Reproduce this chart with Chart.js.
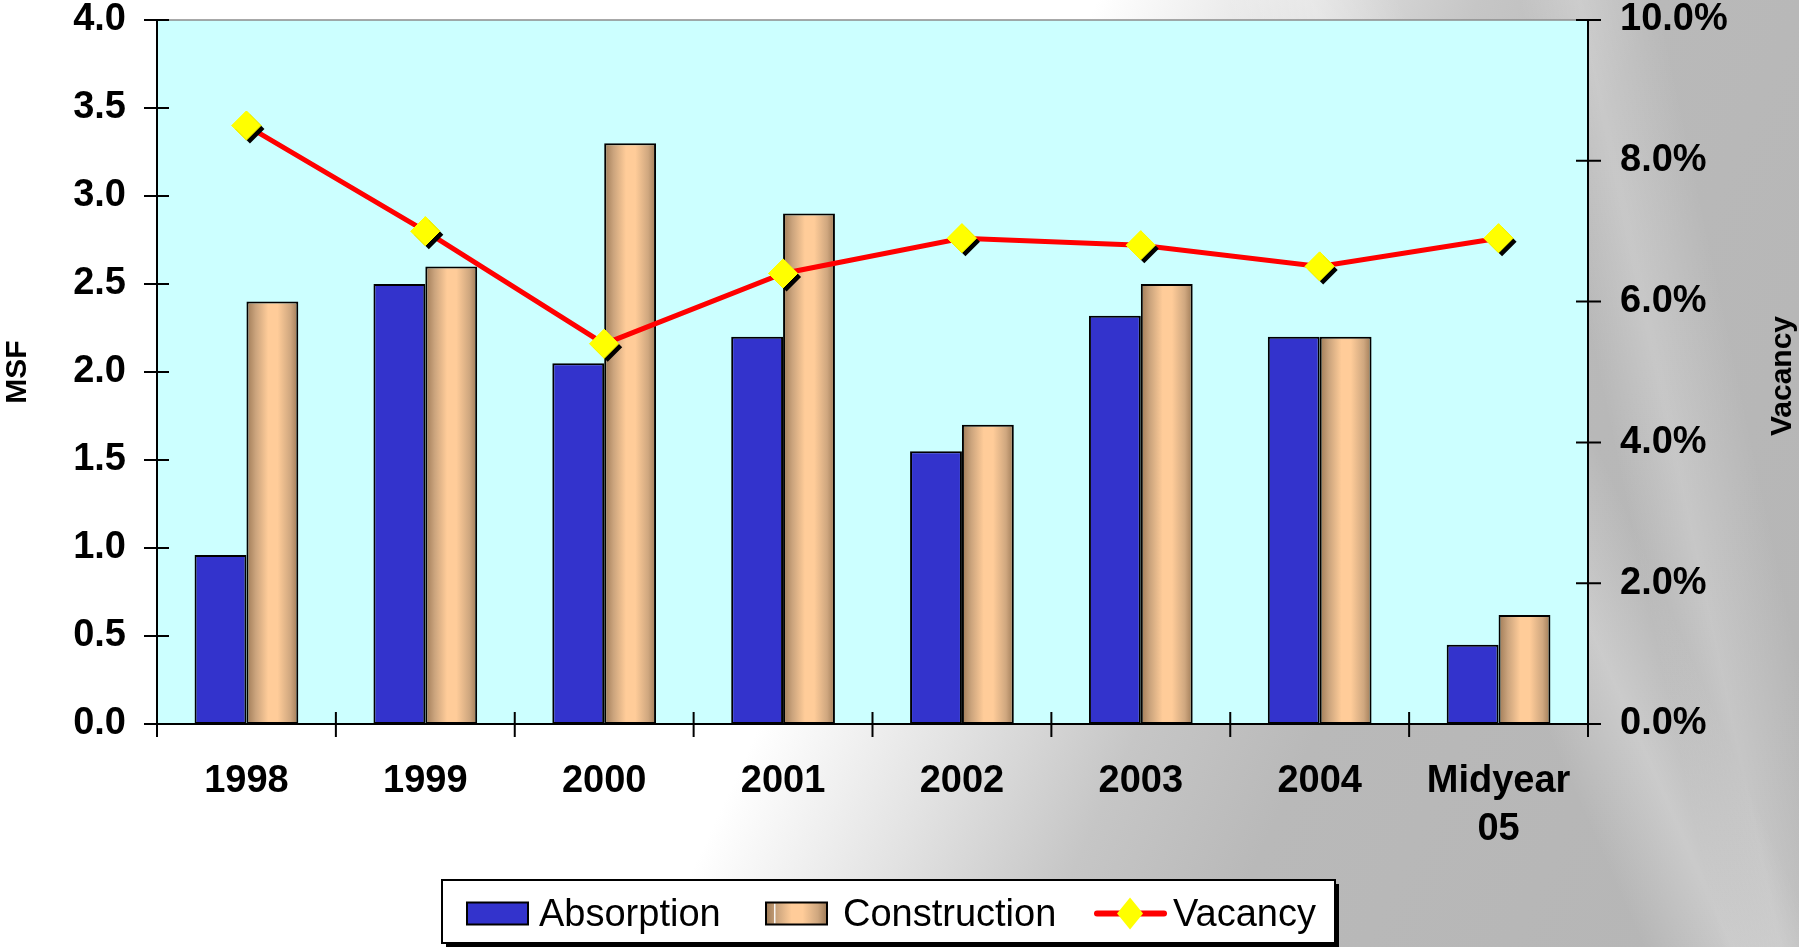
<!DOCTYPE html>
<html>
<head>
<meta charset="utf-8">
<title>Absorption, Construction and Vacancy</title>
<script src="https://cdn.jsdelivr.net/npm/chart.js@4.4.1/dist/chart.umd.min.js"></script>
<style>
    html, body {
        margin: 0;
        padding: 0;
        overflow: hidden;
    }
    body {
        width: 1799px;
        height: 947px;
        background:
            linear-gradient(66deg, rgba(255,255,255,0) 74%, rgba(255,255,255,0.28) 78%, rgba(255,255,255,0) 82%),
            linear-gradient(78deg, rgba(255,255,255,0) 86%, rgba(255,255,255,0.22) 89%, rgba(255,255,255,0) 93%),
            linear-gradient(115deg, #ffffff 0%, #ffffff 49%, #e2e2e2 58%, #c6c6c6 66%, #b9b9b9 74%, #b5b5b5 100%);
    }
    #wrap {
        position: relative;
        width: 1799px;
        height: 947px;
    }
</style>
</head>
<body>
<div id="wrap"><canvas id="market-chart"></canvas></div>
<script>
// Chart data
const categories = ['1998', '1999', '2000', '2001', '2002', '2003', '2004', ['Midyear', '05']];
const absorption = [0.96, 2.50, 2.05, 2.20, 1.55, 2.32, 2.20, 0.45];
const construction = [2.40, 2.60, 3.30, 2.90, 1.70, 2.50, 2.20, 0.62];
const vacancy = [8.5, 7.0, 5.4, 6.4, 6.9, 6.8, 6.5, 6.9];

const msfTicks = [0, 0.5, 1, 1.5, 2, 2.5, 3, 3.5, 4];
const vacancyTicks = [0, 2, 4, 6, 8, 10];

const FONT = "'Liberation Sans', Arial, sans-serif";
const CAT_PCT = 0.58;
const BLUE = '#3333CC';
const TAN = '#FFCC99';

// horizontal tan gradient for each construction bar
function tanStops(g) {
    g.addColorStop(0, '#9E7A56');
    g.addColorStop(0.18, '#CBA47D');
    g.addColorStop(0.42, '#FFCC99');
    g.addColorStop(0.6, '#FFCC99');
    g.addColorStop(0.85, '#CFA77F');
    g.addColorStop(1, '#9E7A56');
    return g;
}

function tanFill(c) {
    const chart = c.chart;
    const xs = chart.scales.x;
    if (c.type !== 'data' || !xs) return TAN;
    const step = xs.getPixelForValue(1) - xs.getPixelForValue(0);
    const left = xs.getPixelForValue(c.dataIndex);
    const w = step * CAT_PCT / 2;
    if (!isFinite(step) || !isFinite(left) || w <= 0) return TAN;
    return tanStops(chart.ctx.createLinearGradient(left, 0, left + w, 0));
}

function diamond(ctx, x, y, r, ry) {
    ry = ry || r;
    ctx.beginPath();
    ctx.moveTo(x - r, y);
    ctx.lineTo(x, y - ry);
    ctx.lineTo(x + r, y);
    ctx.lineTo(x, y + ry);
    ctx.closePath();
}

// plot background, crossing tick marks, right title and legend box
const decorPlugin = {
    id: 'decor',
    beforeDraw(chart) {
        const { ctx, chartArea: a } = chart;
        ctx.save();
        ctx.fillStyle = '#CCFFFF';
        ctx.fillRect(a.left, a.top, a.right - a.left, a.bottom - a.top);
        ctx.strokeStyle = '#8C8C8C';
        ctx.lineWidth = 1.5;
        ctx.strokeRect(a.left, a.top, a.right - a.left, a.bottom - a.top);
        ctx.restore();
    },
    afterDatasetDraw(chart, args) {
        if (args.index !== 2) return;
        const ctx = chart.ctx;
        const pts = args.meta.data;
        ctx.save();
        ctx.fillStyle = '#000000';
        pts.forEach(p => {
            diamond(ctx, p.x + 3.5, p.y + 3.5, 14.5);
            ctx.fill();
        });
        ctx.restore();
        pts.forEach(p => p.draw(ctx, chart.chartArea));
    },
    afterDraw(chart) {
        const { ctx, chartArea: a, scales } = chart;
        ctx.save();
        ctx.strokeStyle = '#000000';
        ctx.lineWidth = 2;
        ctx.beginPath();
        scales.y.ticks.forEach(t => {
            const py = scales.y.getPixelForValue(t.value);
            ctx.moveTo(a.left - 13, py);
            ctx.lineTo(a.left + 12, py);
        });
        scales.y1.ticks.forEach(t => {
            const py = scales.y1.getPixelForValue(t.value);
            ctx.moveTo(a.right - 12, py);
            ctx.lineTo(a.right + 13, py);
        });
        const step = scales.x.getPixelForValue(1) - scales.x.getPixelForValue(0);
        for (let i = 0; i <= categories.length; i++) {
            const px = scales.x.getPixelForValue(i) - step / 2;
            ctx.moveTo(px, a.bottom - 12);
            ctx.lineTo(px, a.bottom + 13);
        }
        ctx.stroke();

        // right axis title, reading upwards
        ctx.fillStyle = '#000000';
        ctx.font = 'bold 30px ' + FONT;
        ctx.textAlign = 'center';
        ctx.textBaseline = 'middle';
        ctx.translate(1783, (a.top + a.bottom) / 2 + 4);
        ctx.rotate(-Math.PI / 2);
        ctx.fillText('Vacancy', 0, 0);
        ctx.restore();

        drawLegend(chart);
    }
};

function drawLegend(chart) {
    const ctx = chart.ctx;
    const box = { left: 442, top: 880, width: 893, height: 63 };
    const cy = box.top + box.height / 2 + 2;
    const sets = chart.data.datasets;
    ctx.save();
    ctx.fillStyle = '#000000';
    ctx.fillRect(box.left + 4, box.top + 4, box.width, box.height);
    ctx.fillStyle = '#FFFFFF';
    ctx.fillRect(box.left, box.top, box.width, box.height);
    ctx.strokeStyle = '#000000';
    ctx.lineWidth = 2;
    ctx.strokeRect(box.left, box.top, box.width, box.height);

    ctx.font = '38px ' + FONT;
    ctx.textBaseline = 'middle';
    ctx.textAlign = 'left';

    // Absorption
    ctx.fillStyle = BLUE;
    ctx.fillRect(467, cy - 11, 61, 22);
    ctx.strokeRect(467, cy - 11, 61, 22);
    ctx.fillStyle = '#000000';
    ctx.fillText(sets[0].label, 539, cy + 2);

    // Construction
    ctx.fillStyle = tanStops(ctx.createLinearGradient(766, 0, 827, 0));
    ctx.fillRect(766, cy - 11, 61, 22);
    ctx.fillStyle = 'rgba(255,255,255,0.9)';
    ctx.fillRect(774, cy - 10, 1.5, 20);
    ctx.strokeRect(766, cy - 11, 61, 22);
    ctx.fillStyle = '#000000';
    ctx.fillText(sets[1].label, 843, cy + 2);

    // Vacancy
    ctx.strokeStyle = '#FF0000';
    ctx.lineWidth = 6;
    ctx.lineCap = 'round';
    ctx.beginPath();
    ctx.moveTo(1097, cy);
    ctx.lineTo(1164, cy);
    ctx.stroke();
    ctx.fillStyle = '#FFFF00';
    diamond(ctx, 1130, cy, 13, 16);
    ctx.fill();
    ctx.fillStyle = '#000000';
    ctx.fillText(sets[2].label, 1173, cy + 2);
    ctx.restore();
}

document.addEventListener('DOMContentLoaded', () => {
    const ctx = document.getElementById('market-chart');

    Chart.defaults.font.family = FONT;
    Chart.defaults.color = '#000000';

    new Chart(ctx, {
        type: 'bar',
        data: {
            labels: categories,
            datasets: [{
                label: 'Absorption',
                data: absorption,
                backgroundColor: BLUE,
                borderColor: '#000000',
                borderWidth: 2,
                borderSkipped: false,
                categoryPercentage: CAT_PCT,
                barPercentage: 1,
                order: 1
            }, {
                label: 'Construction',
                data: construction,
                backgroundColor: tanFill,
                borderColor: '#000000',
                borderWidth: 2,
                borderSkipped: false,
                categoryPercentage: CAT_PCT,
                barPercentage: 1,
                order: 1
            }, {
                type: 'line',
                label: 'Vacancy',
                data: vacancy,
                yAxisID: 'y1',
                borderColor: '#FF0000',
                borderWidth: 5,
                tension: 0,
                pointStyle: 'rectRot',
                pointRadius: 14.5,
                pointBackgroundColor: '#FFFF00',
                pointBorderColor: '#FFFF00',
                pointBorderWidth: 1,
                order: 0
            }]
        },
        options: {
            responsive: true,
            maintainAspectRatio: false,
            animation: false,
            layout: {
                padding: { top: 20, left: 0, right: 0, bottom: 0 }
            },
            plugins: {
                legend: { display: false },
                tooltip: { enabled: false }
            },
            scales: {
                x: {
                    offset: true,
                    grid: { display: false, drawTicks: false },
                    border: { display: true, color: '#000000', width: 2 },
                    ticks: {
                        font: { size: 38, weight: 'bold', lineHeight: 1.28 },
                        padding: 33,
                        maxRotation: 0,
                        autoSkip: false
                    },
                    afterFit(scale) {
                        scale.height = 223;
                        scale.paddingLeft = 0;
                        scale.paddingRight = 0;
                    }
                },
                y: {
                    position: 'left',
                    min: 0,
                    max: 4,
                    grid: { display: false, drawTicks: false },
                    border: { display: true, color: '#000000', width: 2 },
                    afterBuildTicks(scale) {
                        scale.ticks = msfTicks.map(v => ({ value: v }));
                    },
                    ticks: {
                        font: { size: 38, weight: 'bold' },
                        padding: 31,
                        callback: v => v.toFixed(1)
                    },
                    title: {
                        display: true,
                        text: 'MSF',
                        font: { size: 30, weight: 'bold' },
                        padding: { top: 0, bottom: 0 }
                    },
                    afterFit(scale) {
                        scale.width = 157;
                        scale.paddingTop = 0;
                        scale.paddingBottom = 0;
                    }
                },
                y1: {
                    position: 'right',
                    min: 0,
                    max: 10,
                    grid: { display: false, drawTicks: false },
                    border: { display: true, color: '#000000', width: 2 },
                    afterBuildTicks(scale) {
                        scale.ticks = vacancyTicks.map(v => ({ value: v }));
                    },
                    ticks: {
                        font: { size: 38, weight: 'bold' },
                        padding: 32,
                        callback: v => v.toFixed(1) + '%'
                    },
                    afterFit(scale) {
                        scale.width = 211;
                        scale.paddingTop = 0;
                        scale.paddingBottom = 0;
                    }
                }
            }
        },
        plugins: [decorPlugin]
    });
});
</script>
</body>
</html>
